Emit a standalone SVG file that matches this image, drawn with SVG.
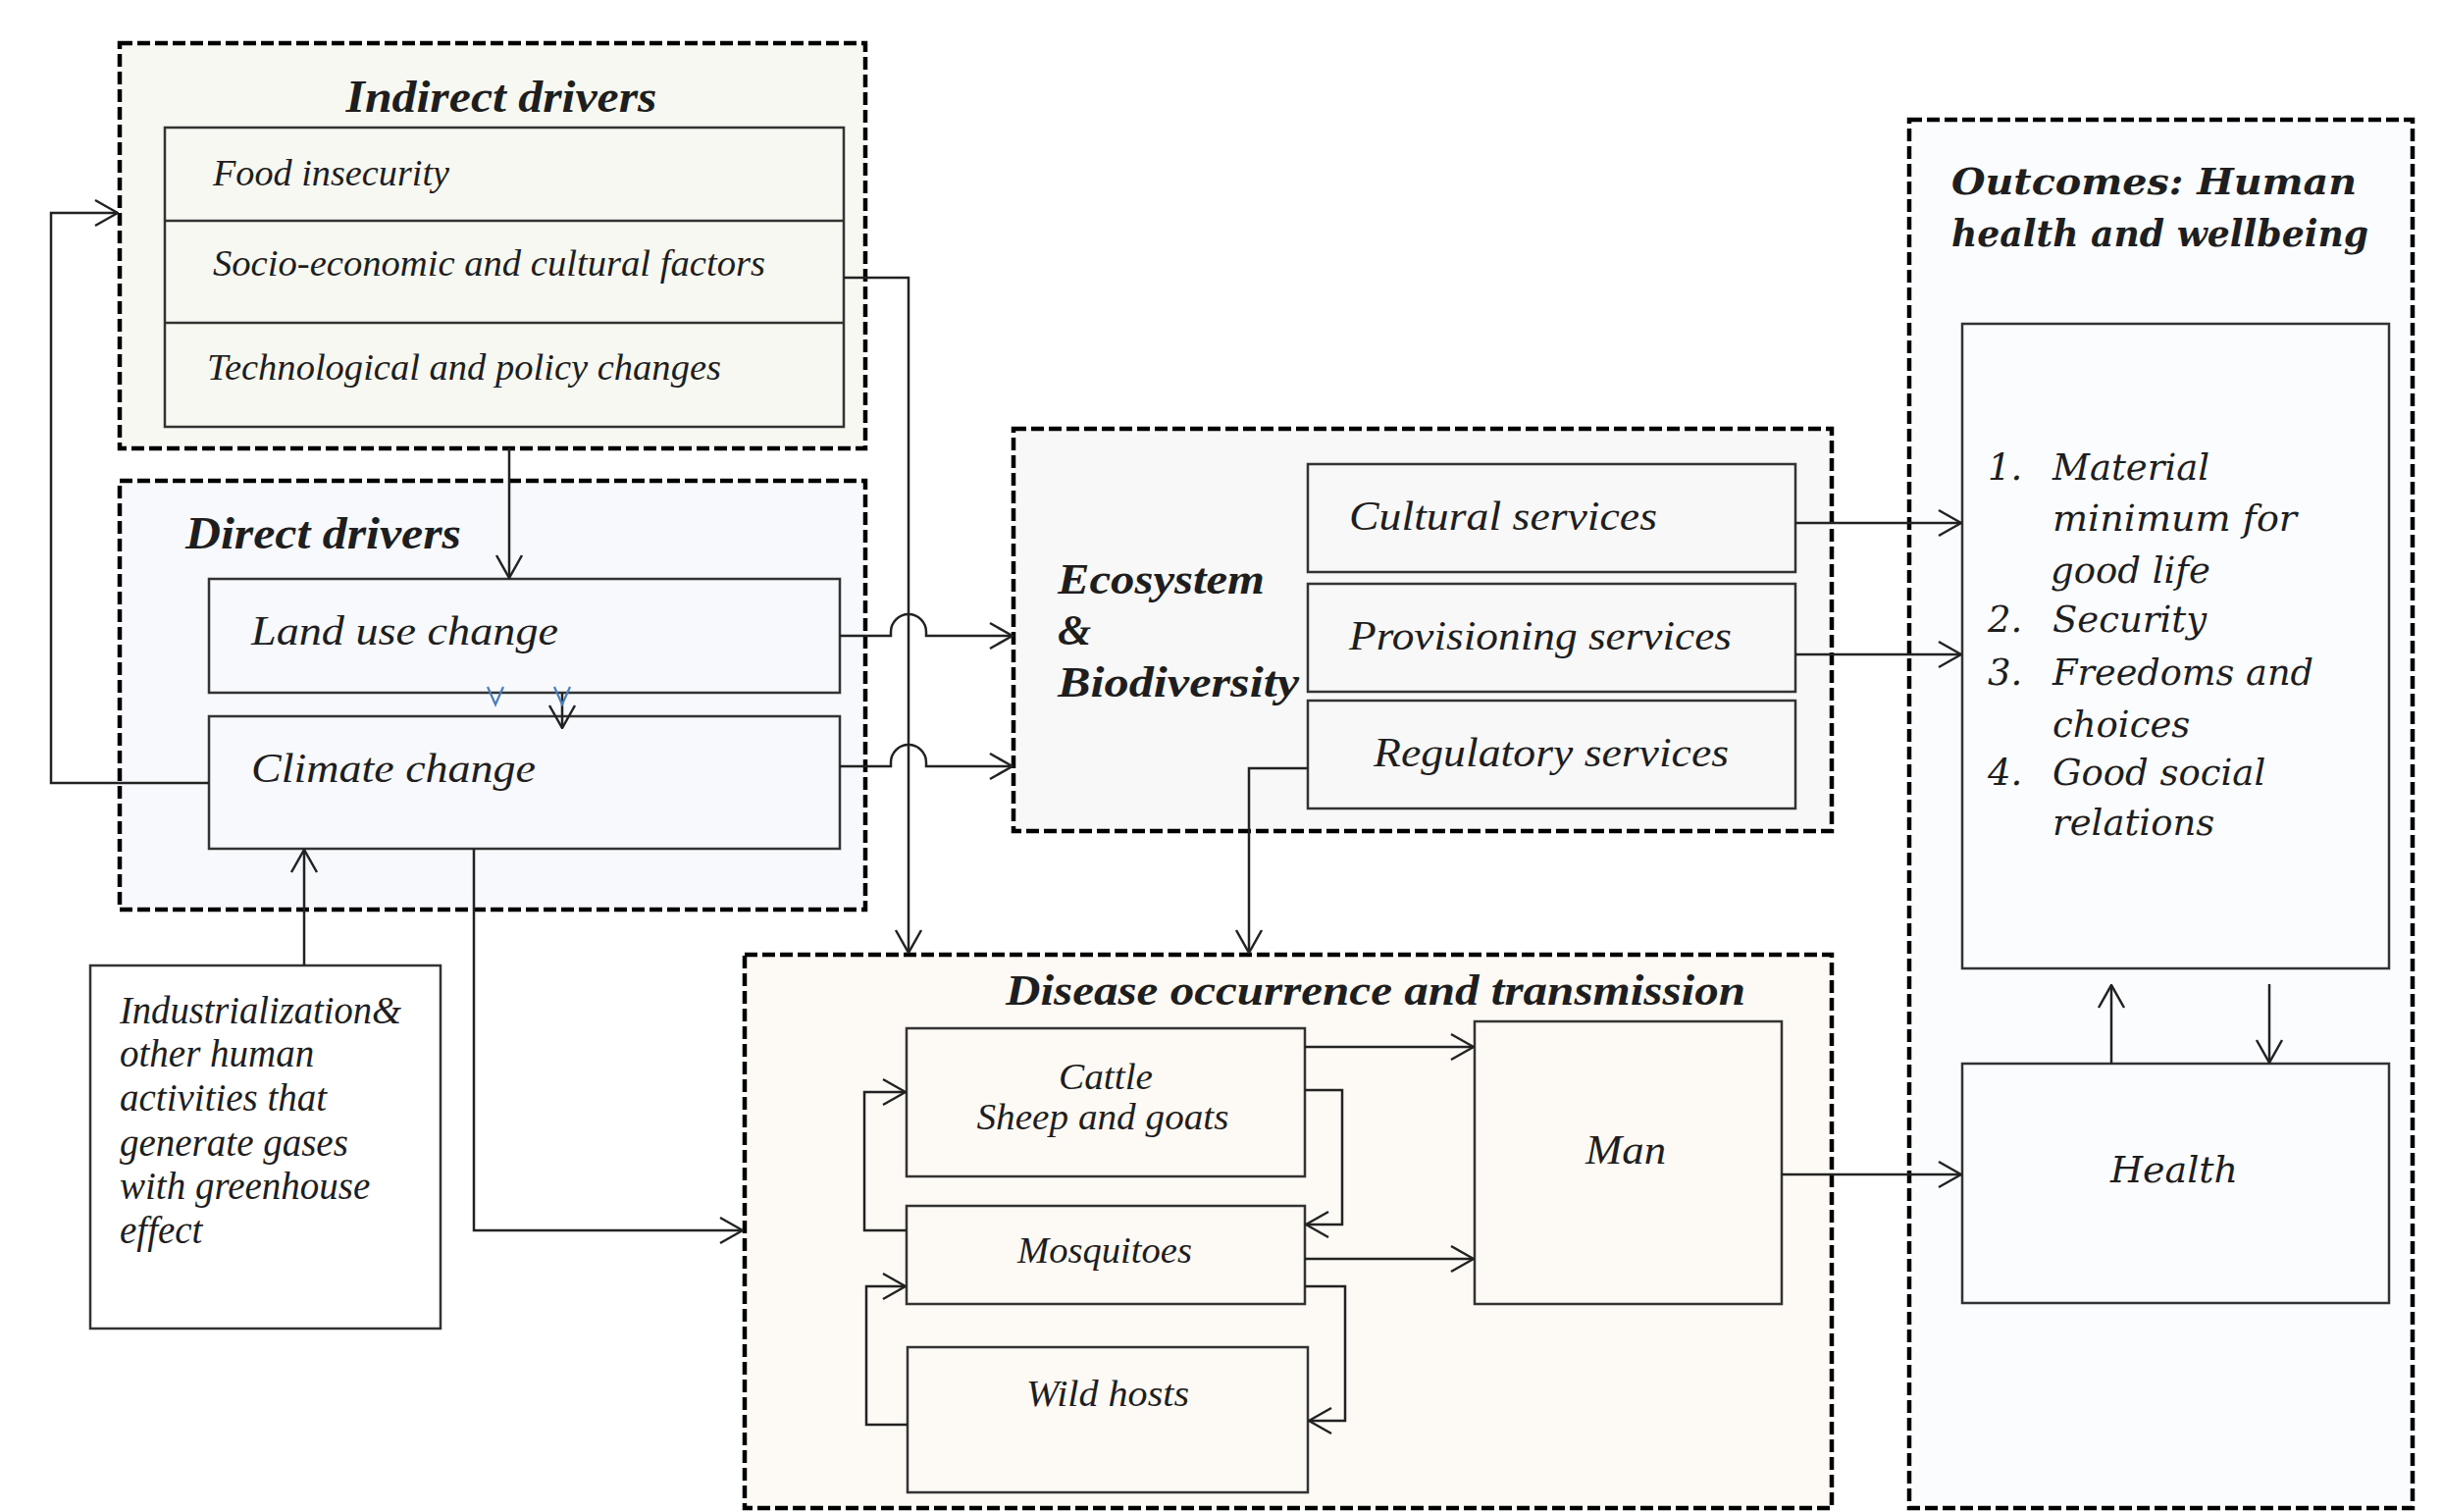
<svg xmlns="http://www.w3.org/2000/svg" width="2489" height="1541" viewBox="0 0 2489 1541">
<defs>
<style>
.dash{stroke:#000;stroke-width:4.5;stroke-dasharray:13 5}
.box{stroke:#333;stroke-width:2.5}
.con{fill:none;stroke:#222;stroke-width:2.5}
.t{font-family:"Liberation Serif",serif;font-style:italic;fill:#1e1e1e}
.b{font-weight:bold}
.w{font-family:"DejaVu Serif",serif;font-style:italic;fill:#1e1e1e}
</style>
<marker id="ah" viewBox="0 0 26 30" refX="25" refY="15" markerWidth="26" markerHeight="30" markerUnits="userSpaceOnUse" orient="auto">
<path d="M2,2 L25,15 L2,28" fill="none" stroke="#222" stroke-width="2.5"/>
</marker>
</defs>
<rect width="2489" height="1541" fill="#fff"/>

<g id="indirect-drivers">
<rect x="122" y="44" width="760" height="413" fill="#f7f8f2" class="dash"/>
<text x="511" y="114" text-anchor="middle" class="t b" font-size="46" textLength="317" lengthAdjust="spacingAndGlyphs">Indirect drivers</text>
<rect x="168" y="130" width="692" height="305" fill="#f7f8f2" class="box"/>
<line x1="168" y1="225" x2="860" y2="225" class="box"/>
<line x1="168" y1="329" x2="860" y2="329" class="box"/>
<text x="217" y="189" class="t" font-size="37" textLength="241" lengthAdjust="spacingAndGlyphs">Food insecurity</text>
<text x="217" y="281" class="t" font-size="37" textLength="563" lengthAdjust="spacingAndGlyphs">Socio-economic and cultural factors</text>
<text x="211" y="387" class="t" font-size="37" textLength="524" lengthAdjust="spacingAndGlyphs">Technological and policy changes</text>
</g>

<g id="direct-drivers">
<rect x="122" y="490" width="760" height="437" fill="#f7f9fd" class="dash"/>
<text x="189" y="559" class="t b" font-size="46" textLength="281" lengthAdjust="spacingAndGlyphs">Direct drivers</text>
</g>
<g id="land-use-change">
<rect x="213" y="590" width="643" height="116" fill="#f7f9fd" class="box"/>
<text x="256" y="657" class="t" font-size="42" textLength="313" lengthAdjust="spacingAndGlyphs">Land use change</text>
</g>
<g id="climate-change">
<rect x="213" y="730" width="643" height="135" fill="#f7f9fd" class="box"/>
<text x="256" y="797" class="t" font-size="42" textLength="290" lengthAdjust="spacingAndGlyphs">Climate change</text>
</g>

<g id="industrialization">
<rect x="92" y="984" width="357" height="370" fill="#fff" class="box"/>
<text class="t" font-size="39" fill="#111">
<tspan x="122" y="1043" textLength="287" lengthAdjust="spacingAndGlyphs">Industrialization&amp;</tspan>
<tspan x="122" y="1087">other human</tspan>
<tspan x="122" y="1132">activities that</tspan>
<tspan x="122" y="1178">generate gases</tspan>
<tspan x="122" y="1222">with greenhouse</tspan>
<tspan x="122" y="1267">effect</tspan>
</text>
</g>

<g id="ecosystem-biodiversity">
<rect x="1033" y="437" width="834" height="410" fill="#f8f8f8" class="dash"/>
<text x="1078" y="605" class="t b" font-size="44" textLength="211" lengthAdjust="spacingAndGlyphs">Ecosystem</text>
<text x="1078" y="657" class="t b" font-size="44">&amp;</text>
<text x="1078" y="710" class="t b" font-size="44" textLength="246" lengthAdjust="spacingAndGlyphs">Biodiversity</text>
</g>
<g id="cultural-services">
<rect x="1333" y="473" width="497" height="110" fill="#f8f8f8" class="box"/>
<text x="1375" y="540" class="t" font-size="42" textLength="314" lengthAdjust="spacingAndGlyphs">Cultural services</text>
</g>
<g id="provisioning-services">
<rect x="1333" y="595" width="497" height="110" fill="#f8f8f8" class="box"/>
<text x="1375" y="662" class="t" font-size="42" textLength="390" lengthAdjust="spacingAndGlyphs">Provisioning services</text>
</g>
<g id="regulatory-services">
<rect x="1333" y="714" width="497" height="110" fill="#f8f8f8" class="box"/>
<text x="1400" y="781" class="t" font-size="42" textLength="362" lengthAdjust="spacingAndGlyphs">Regulatory services</text>
</g>

<g id="disease-occurrence">
<rect x="759" y="973" width="1108" height="564" fill="#fdf9f5" class="dash"/>
<text x="1402" y="1024" text-anchor="middle" class="t b" font-size="44" textLength="754" lengthAdjust="spacingAndGlyphs">Disease occurrence  and transmission</text>
</g>
<g id="cattle">
<rect x="924" y="1048" width="406" height="151" fill="#fdf9f5" class="box"/>
<text x="1127" y="1110" text-anchor="middle" class="t" font-size="37" textLength="96" lengthAdjust="spacingAndGlyphs">Cattle</text>
<text x="1124" y="1151" text-anchor="middle" class="t" font-size="37" textLength="257" lengthAdjust="spacingAndGlyphs">Sheep and goats</text>
</g>
<g id="mosquitoes">
<rect x="924" y="1229" width="406" height="100" fill="#fdf9f5" class="box"/>
<text x="1126" y="1287" text-anchor="middle" class="t" font-size="37" textLength="178" lengthAdjust="spacingAndGlyphs">Mosquitoes</text>
</g>
<g id="wild-hosts">
<rect x="925" y="1373" width="408" height="148" fill="#fdf9f5" class="box"/>
<text x="1129" y="1433" text-anchor="middle" class="t" font-size="37" textLength="166" lengthAdjust="spacingAndGlyphs">Wild hosts</text>
</g>
<g id="man">
<rect x="1503" y="1041" width="313" height="288" fill="#fdf9f5" class="box"/>
<text x="1657" y="1186" text-anchor="middle" class="t" font-size="43" textLength="82" lengthAdjust="spacingAndGlyphs">Man</text>
</g>

<g id="outcomes">
<rect x="1946" y="122" width="513" height="1415" fill="#fbfcfe" class="dash"/>
<text x="1989" y="198" class="w b" font-size="38" textLength="413" lengthAdjust="spacingAndGlyphs">Outcomes: Human</text>
<text x="1989" y="251" class="w b" font-size="38" textLength="425" lengthAdjust="spacingAndGlyphs">health and wellbeing</text>
</g>
<g id="wellbeing-list">
<rect x="2000" y="330" width="435" height="657" fill="#fbfcfe" class="box"/>
<g class="w" font-size="37">
<text x="2026" y="489">1.</text><text x="2092" y="489">Material</text>
<text x="2092" y="541" textLength="249" lengthAdjust="spacingAndGlyphs">minimum for</text>
<text x="2090" y="594">good life</text>
<text x="2026" y="644">2.</text><text x="2092" y="644">Security</text>
<text x="2026" y="698">3.</text><text x="2092" y="698" textLength="266" lengthAdjust="spacingAndGlyphs">Freedoms and</text>
<text x="2092" y="751">choices</text>
<text x="2026" y="800">4.</text><text x="2092" y="800">Good social</text>
<text x="2092" y="851">relations</text>
</g>
</g>
<g id="health">
<rect x="2000" y="1084" width="435" height="244" fill="#fbfcfe" class="box"/>
<text x="2216" y="1205" text-anchor="middle" class="w" font-size="38">Health</text>
</g>

<g id="connectors">
<path d="M213,798 H52 V217 H120" class="con" marker-end="url(#ah)"/>
<path d="M519,457 V589" class="con" marker-end="url(#ah)"/>
<path d="M573,706 V742" class="con" stroke="#000" marker-end="url(#ah)"/>
<path d="M497,700 L505,718 L513,700 M565,700 L573,718 L581,700" fill="none" stroke="#4a7ebb" stroke-width="2.2"/>
<path d="M856,648 H908 V644 A18,18 0 0 1 944,644 V648 H1032" class="con" marker-end="url(#ah)"/>
<path d="M856,781 H908 V777 A18,18 0 0 1 944,777 V781 H1032" class="con" marker-end="url(#ah)"/>
<path d="M860,283 H926 V971" class="con" marker-end="url(#ah)"/>
<path d="M483,865 V1254 H757" class="con" marker-end="url(#ah)"/>
<path d="M310,984 V866" class="con" marker-end="url(#ah)"/>
<path d="M1333,783 H1273 V971" class="con" marker-end="url(#ah)"/>
<path d="M1830,533 H1999" class="con" marker-end="url(#ah)"/>
<path d="M1830,667 H1999" class="con" marker-end="url(#ah)"/>
<path d="M1330,1067 H1502" class="con" marker-end="url(#ah)"/>
<path d="M1330,1283 H1502" class="con" marker-end="url(#ah)"/>
<path d="M1330,1111 H1368 V1248 H1331" class="con" marker-end="url(#ah)"/>
<path d="M924,1254 H881 V1113 H923" class="con" marker-end="url(#ah)"/>
<path d="M1330,1311 H1371 V1448 H1334" class="con" marker-end="url(#ah)"/>
<path d="M925,1452 H883 V1311 H923" class="con" marker-end="url(#ah)"/>
<path d="M1816,1197 H1999" class="con" marker-end="url(#ah)"/>
<path d="M2152,1084 V1004" class="con" marker-end="url(#ah)"/>
<path d="M2313,1003 V1083" class="con" marker-end="url(#ah)"/>
</g>
</svg>
